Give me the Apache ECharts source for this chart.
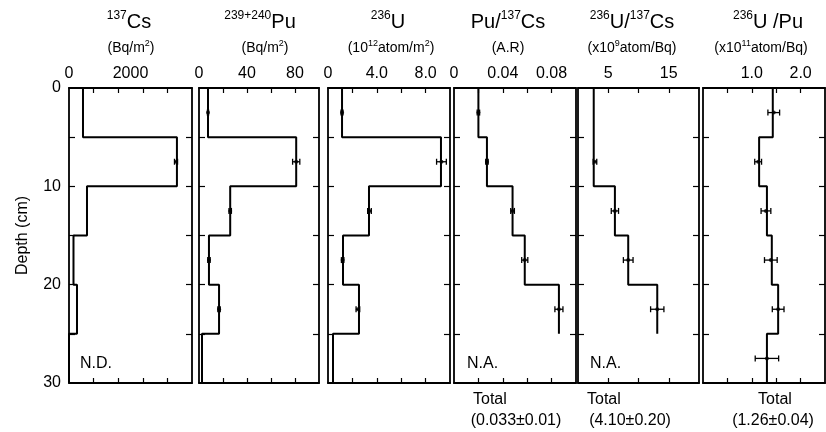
<!DOCTYPE html>
<html>
<head>
<meta charset="utf-8">
<script src="https://cdn.jsdelivr.net/npm/echarts@6/dist/echarts.min.js"></script>
<style>
  html, body { margin: 0; padding: 0; background: #fff; }
  #chart { width: 826px; height: 432px; }
</style>
</head>
<body>
<div id="chart"></div>
<script>
// layer boundaries (cm) and mid depths of the 5 cm slices
const layerTops = [0, 5, 10, 15, 20, 25]
const layerMids = [2.5, 7.5, 12.5, 17.5, 22.5, 27.5]
const depthTicks = [5, 10, 15, 20, 25]
const depthLabels = [0, 10, 20, 30]

// 137Cs (Bq/m2)
const cs = [455, 3510, 585, 146, 260, 0]
const csMean = [null, 3480, null, null, null, null]
const csErr = [null, 50, null, null, null, null]

// 239+240Pu (Bq/m2)
const pu = [7.5, 81, 26, 8.3, 16.7, 2.5]
const puMean = [7.5, 81, 26, 8.3, 16.7, null]
const puErr = [0.5, 3, 1, 1, 1, null]

// 236U (10^12 atom/m2)
const u236 = [1.15, 9.26, 3.36, 1.23, 2.54, 0.41]
const u236Mean = [1.15, 9.3, 3.4, 1.2, 2.45, null]
const u236Err = [0.08, 0.4, 0.15, 0.1, 0.15, null]

// Pu/137Cs (A.R), 25-30 cm not available
const puCs = [0.020, 0.027, 0.048, 0.058, 0.086]
const puCsMean = [0.020, 0.027, 0.048, 0.058, 0.086]
const puCsErr = [0.001, 0.001, 0.0015, 0.0025, 0.0033]

// 236U/137Cs (x10^9 atom/Bq), 25-30 cm not available
const uCs = [2.6, 2.6, 6.1, 8.3, 13.1]
const uCsMean = [null, 2.8, 6.1, 8.3, 13.1]
const uCsErr = [null, 0.3, 0.6, 0.8, 1.1]

// 236U/Pu (x10^11 atom/Bq)
const uPu = [1.43, 1.15, 1.31, 1.41, 1.54, 1.31]
const uPuMean = [1.45, 1.13, 1.29, 1.39, 1.54, 1.31]
const uPuErr = [0.12, 0.07, 0.1, 0.13, 0.12, 0.24]

const FONT = '"Liberation Sans", Arial, sans-serif'

const oneDec = v => v === 0 ? '0' : v.toFixed(1)

const panels = [
    {layers: cs, mean: csMean, err: csErr, max: 4000, ticks: [800, 1600, 2400, 3200], labels: [0, 2000], fmt: v => String(v)},
    {layers: pu, mean: puMean, err: puErr, max: 100, ticks: [20, 40, 60, 80], labels: [0, 40, 80], fmt: v => String(v)},
    {layers: u236, mean: u236Mean, err: u236Err, max: 10, ticks: [2, 4, 6, 8], labels: [0, 4, 8], fmt: oneDec},
    {layers: puCs, mean: puCsMean, err: puCsErr, max: 0.1, ticks: [0.02, 0.04, 0.06, 0.08], labels: [0, 0.04, 0.08], fmt: v => v === 0 ? '0' : v.toFixed(2)},
    {layers: uCs, mean: uCsMean, err: uCsErr, max: 20, ticks: [5, 10, 15], labels: [5, 15], fmt: v => String(v)},
    {layers: uPu, mean: uPuMean, err: uPuErr, max: 2.5, ticks: [0.5, 1, 1.5, 2], labels: [1, 2], fmt: oneDec}
]

// panel placement in the page
const lefts = [69, 199, 328, 454, 578, 703]
const widths = [123, 120, 122, 122, 121, 122]
const TOP = 88
const HEIGHT = 295

let grid = [], xAxis = [], yAxis = [], series = []

panels.forEach((p, i) => {
    grid.push({left: lefts[i], top: TOP, width: widths[i], height: HEIGHT, outerBoundsMode: 'none'})

    const lineStyle = {color: '#000', width: 1.8}
    // top axis with labels
    xAxis.push({
        type: 'value', gridIndex: i, position: 'top', min: 0, max: p.max,
        axisLine: {show: true, onZero: false, lineStyle},
        axisTick: {show: true, inside: true, length: 5, customValues: p.ticks, lineStyle: {color: '#000', width: 1.2}},
        axisLabel: {show: true, customValues: p.labels, formatter: p.fmt, margin: 6, fontSize: 16, color: '#000', fontFamily: FONT},
        splitLine: {show: false}
    })
    // bottom axis, ticks only
    xAxis.push({
        type: 'value', gridIndex: i, position: 'bottom', min: 0, max: p.max,
        axisLine: {show: true, onZero: false, lineStyle},
        axisTick: {show: true, inside: true, length: 5, customValues: p.ticks, lineStyle: {color: '#000', width: 1.2}},
        axisLabel: {show: false},
        splitLine: {show: false}
    })
    yAxis.push({
        type: 'value', gridIndex: i, position: 'left', inverse: true, min: 0, max: 30,
        name: i === 0 ? 'Depth (cm)' : '', nameLocation: 'middle', nameGap: 38, nameRotate: 90,
        nameTextStyle: {fontSize: 16, color: '#000', fontFamily: FONT},
        axisLine: {show: true, onZero: false, lineStyle},
        axisTick: {show: true, inside: true, length: 6, customValues: depthTicks, lineStyle: {color: '#000', width: 1.2}},
        axisLabel: {show: i === 0, customValues: depthLabels, margin: 8, fontSize: 16, color: '#000', fontFamily: FONT},
        splitLine: {show: false}
    })
    yAxis.push({
        type: 'value', gridIndex: i, position: 'right', inverse: true, min: 0, max: 30,
        axisLine: {show: true, onZero: false, lineStyle},
        axisTick: {show: true, inside: true, length: 6, customValues: depthTicks, lineStyle: {color: '#000', width: 1.2}},
        axisLabel: {show: false},
        splitLine: {show: false}
    })

    // step profile built from the layer values
    let steps = []
    p.layers.forEach((v, k) => {
        steps.push([v, layerTops[k]])
        steps.push([v, layerTops[k] + 5])
    })
    series.push({
        type: 'line', xAxisIndex: 2 * i, yAxisIndex: 2 * i,
        data: steps, symbol: 'none', silent: true,
        lineStyle: {color: '#000', width: 2}
    })

    let pts = [], bars = []
    p.mean.forEach((v, k) => {
        if (v == null) return
        pts.push([v, layerMids[k]])
        if (p.err[k] != null) bars.push([v, layerMids[k], p.err[k]])
    })
    series.push({
        type: 'scatter', xAxisIndex: 2 * i, yAxisIndex: 2 * i,
        data: pts, symbolSize: 4, itemStyle: {color: '#000'}, silent: true
    })
    series.push({
        type: 'custom', xAxisIndex: 2 * i, yAxisIndex: 2 * i,
        data: bars, encode: {x: 0, y: 1}, silent: true,
        renderItem: (params, api) => {
            const v = api.value(0), d = api.value(1), e = api.value(2)
            const a = api.coord([v - e, d])
            const b = api.coord([v + e, d])
            const st = {stroke: '#000', lineWidth: 1.3}
            return {
                type: 'group',
                children: [
                    {type: 'line', shape: {x1: a[0], y1: a[1], x2: b[0], y2: b[1]}, style: st},
                    {type: 'line', shape: {x1: a[0], y1: a[1] - 3, x2: a[0], y2: a[1] + 3}, style: st},
                    {type: 'line', shape: {x1: b[0], y1: b[1] - 3, x2: b[0], y2: b[1] + 3}, style: st}
                ]
            }
        }
    })
})

// headers: element name line and unit line
const titleRich = {
    s: {fontSize: 12, lineHeight: 12, verticalAlign: 'top', fontFamily: FONT, fill: '#000'},
    m: {fontSize: 20, lineHeight: 24, fontFamily: FONT, fill: '#000'},
    us: {fontSize: 9, lineHeight: 9, verticalAlign: 'top', fontFamily: FONT, fill: '#000'},
    u: {fontSize: 14, lineHeight: 17, fontFamily: FONT, fill: '#000'}
}
const titles = [
    '{s|137}{m|Cs}', '{s|239+240}{m|Pu}', '{s|236}{m|U}',
    '{m|Pu/}{s|137}{m|Cs}', '{s|236}{m|U/}{s|137}{m|Cs}', '{s|236}{m|U /Pu}'
]
const units = [
    '{u|(Bq/m}{us|2}{u|)}', '{u|(Bq/m}{us|2}{u|)}', '{u|(10}{us|12}{u|atom/m}{us|2}{u|)}',
    '{u|(A.R)}', '{u|(x10}{us|9}{u|atom/Bq)}', '{u|(x10}{us|11}{u|atom/Bq)}'
]
const titleX = [129, 260, 388, 508, 632, 768]
const unitX = [131, 265, 391, 508, 632, 761]

let graphic = []
titles.forEach((t, i) => {
    graphic.push({type: 'text', x: titleX[i], y: 22, style: {text: t, rich: titleRich, align: 'center', verticalAlign: 'middle'}})
    graphic.push({type: 'text', x: unitX[i], y: 48, style: {text: units[i], rich: titleRich, align: 'center', verticalAlign: 'middle'}})
})

const note = (text, x, y, align) => ({
    type: 'text', x: x, y: y,
    style: {text: text, font: '16px ' + FONT, fill: '#000', align: align || 'left', verticalAlign: 'middle'}
})
graphic.push(note('N.D.', 80, 364))
graphic.push(note('N.A.', 467, 364))
graphic.push(note('N.A.', 590, 364))
graphic.push(note('Total', 473, 400))
graphic.push(note('(0.033\u00b10.01)', 516, 421, 'center'))
graphic.push(note('Total', 587, 400))
graphic.push(note('(4.10\u00b10.20)', 630, 421, 'center'))
graphic.push(note('Total', 775, 400, 'center'))
graphic.push(note('(1.26\u00b10.04)', 773, 421, 'center'))

const option = {
    backgroundColor: '#fff',
    animation: false,
    textStyle: {fontFamily: FONT},
    grid, xAxis, yAxis, series, graphic
}

const chart = echarts.init(document.getElementById('chart'), null, {renderer: 'canvas'})
chart.setOption(option)
</script>
</body>
</html>
